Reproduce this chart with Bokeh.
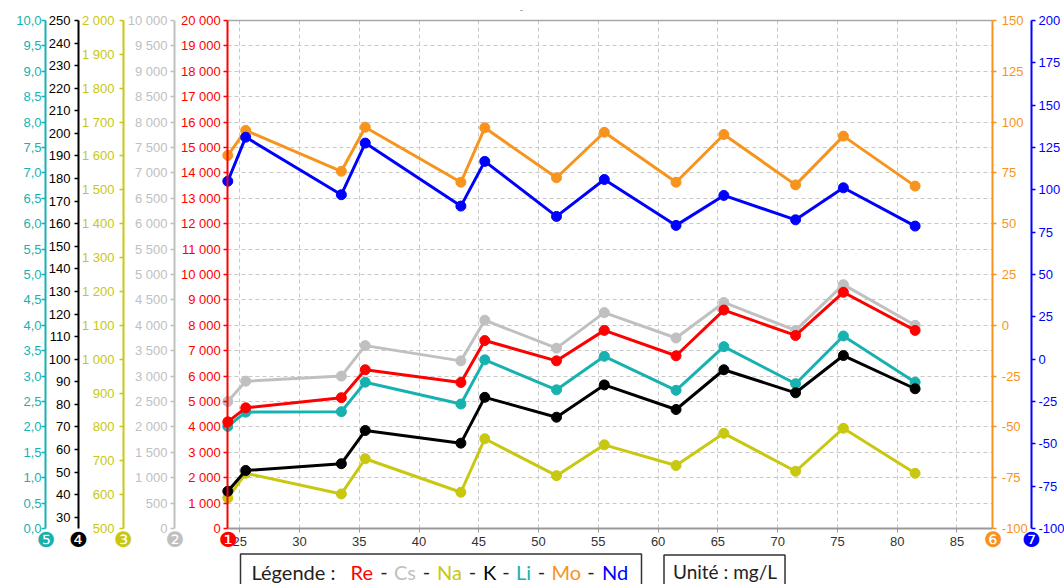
from bokeh.plotting import figure
from bokeh.models import (LinearAxis, Range1d, FixedTicker, CustomJSTickFormatter,
                          Label, BoxAnnotation)
from bokeh.embed import file_html
from bokeh.resources import INLINE

# ---------------- data ----------------
x_vals = [24, 25.5, 33.5, 35.5, 43.5, 45.5, 51.5, 55.5, 61.5, 65.5, 71.5, 75.5, 81.5]
re_vals = [4200, 4750, 5150, 6250, 5750, 7400, 6600, 7800, 6800, 8600, 7600, 9300, 7800]
cs_vals = [2500, 2900, 3000, 3600, 3300, 4100, 3550, 4250, 3750, 4450, 3900, 4800, 4000]
na_vals = [590, 663, 602, 706, 607, 765, 656, 747, 686, 781, 669, 796, 663]
k_vals = [41.5, 50.7, 53.7, 68.4, 62.8, 83.1, 74.3, 88.6, 77.7, 95.3, 85.1, 101.6, 86.9]
li_vals = [2.01, 2.29, 2.30, 2.88, 2.45, 3.32, 2.73, 3.39, 2.72, 3.58, 2.85, 3.79, 2.88]
mo_vals = [83.6, 95.9, 75.8, 97.5, 70.4, 97.2, 72.6, 95.0, 70.4, 93.9, 69.1, 93.1, 68.5]
nd_vals = [105.1, 131.1, 97.1, 127.6, 90.4, 116.8, 84.3, 106.1, 79.0, 96.7, 82.3, 101.2, 78.6]

x_ticks = [25, 30, 35, 40, 45, 50, 55, 60, 65, 70, 75, 80, 85]
re_ticks = list(range(0, 20001, 1000))
cs_ticks = list(range(0, 10001, 500))
na_ticks = list(range(500, 2001, 100))
k_ticks = list(range(30, 251, 10))
li_ticks = [i * 0.5 for i in range(21)]
mo_ticks = list(range(-100, 151, 25))
nd_ticks = list(range(-100, 201, 25))

legend_names = ["Re", "Cs", "Na", "K", "Li", "Mo", "Nd"]
legend_title = "Légende :"
unit_text = "Unité : mg/L"

C_RE, C_CS, C_NA, C_K = "#ff0000", "#c0c0c0", "#c8c810", "#000000"
C_LI, C_MO, C_ND = "#17b2b0", "#f7941d", "#0000ff"

THOU = r"return Math.round(tick).toString().replace(/\B(?=(\d{3})+(?!\d))/g, ' ');"
DEC = r"return tick.toFixed(1).replace('.', ',');"

# ---------------- layout geometry (page pixels) ----------------
W, H = 1064, 584
PX_L, PX_R = 227.3, 992.3          # x = 24 and x = 88
PY_T, PY_B = 20.0, 528.0           # top / bottom of the value axes
X0, X1 = 24, 88
KX = (PX_R - PX_L) / (X1 - X0)


def px_to_x(px):
    return X0 + (px - PX_L) / KX


def vrange(lo, hi):
    span = hi - lo
    h = PY_B - PY_T
    return Range1d(lo - span * (H - PY_B) / h, hi + span * PY_T / h)


p = figure(width=W, height=H, x_range=Range1d(px_to_x(0), px_to_x(W)),
           y_range=vrange(0, 20000), output_backend="svg", toolbar_location=None,
           min_border=0, min_border_left=0, min_border_right=0,
           min_border_top=0, min_border_bottom=0)
p.extra_y_ranges = {
    "cs": vrange(0, 10000), "na": vrange(500, 2000), "k": vrange(25, 250),
    "li": vrange(0, 10), "mo": vrange(-100, 150), "nd": vrange(-100, 200),
}
p.outline_line_color = None
p.background_fill_color = "white"
p.border_fill_color = "white"


def style_axis(ax, color, code, ticks, standoff, bounds, loc_px):
    ax.axis_line_color = color
    ax.axis_line_width = 2
    ax.major_tick_line_color = color
    ax.major_tick_line_width = 1.5
    ax.major_tick_out = 4
    ax.major_tick_in = 0
    ax.minor_tick_line_color = None
    ax.major_label_text_color = color
    ax.major_label_text_font = "Liberation Sans"
    ax.major_label_text_font_size = "13px"
    ax.major_label_standoff = standoff
    ax.ticker = FixedTicker(ticks=ticks)
    ax.formatter = CustomJSTickFormatter(code=code)
    ax.bounds = bounds
    ax.fixed_location = px_to_x(loc_px)


style_axis(p.yaxis[0], C_RE, THOU, re_ticks, 3, (0, 20000), PX_L)
left_axes = [("cs", C_CS, THOU, cs_ticks, 3, (0, 10000), 174),
             ("na", C_NA, THOU, na_ticks, 5, (500, 2000), 123),
             ("k", C_K, THOU, k_ticks, 4, (25, 250), 78),
             ("li", C_LI, DEC, li_ticks, 0, (0, 10), 45)]
for rng, col, code, ticks, so, bnd, loc in left_axes:
    ax = LinearAxis(y_range_name=rng)
    style_axis(ax, col, code, ticks, so, bnd, loc)
    p.add_layout(ax, "left")
right_axes = [("mo", C_MO, THOU, mo_ticks, 5, (-100, 150), PX_R),
              ("nd", C_ND, THOU, nd_ticks, 3, (-100, 200), 1031)]
for rng, col, code, ticks, so, bnd, loc in right_axes:
    ax = LinearAxis(y_range_name=rng)
    style_axis(ax, col, code, ticks, so, bnd, loc)
    p.add_layout(ax, "right")

xa = p.xaxis[0]
xa.ticker = FixedTicker(ticks=x_ticks)
xa.fixed_location = 0
xa.bounds = (X0, X1)
xa.axis_line_color = "#999999"
xa.axis_line_width = 2
xa.major_tick_line_color = "#999999"
xa.major_tick_out = 4
xa.major_tick_in = 0
xa.minor_tick_line_color = None
xa.major_label_text_color = "#333333"
xa.major_label_text_font = "Liberation Sans"
xa.major_label_text_font_size = "13px"
xa.major_label_standoff = 4

top = LinearAxis(ticker=FixedTicker(ticks=[]), fixed_location=20000, bounds=(X0, X1),
                 axis_line_color="#a8a8a8", axis_line_width=1.5,
                 major_tick_line_color=None, minor_tick_line_color=None,
                 major_label_text_font_size="0px")
p.add_layout(top, "above")

gx, gy = p.xgrid[0], p.ygrid[0]
grid_style = dict(line_color="#c8c8c8", line_dash="4 3", line_width=1)
if "cross_bounds" in gx.properties():
    gx.ticker = FixedTicker(ticks=x_ticks)
    gy.ticker = FixedTicker(ticks=re_ticks)
    gx.bounds = (X0, X1)
    gx.cross_bounds = (0, 20000)
    gy.bounds = (0, 20000)
    gy.cross_bounds = (X0, X1)
    for g in (gx, gy):
        g.grid_line_color = "#c8c8c8"
        g.grid_line_dash = "4 3"
        g.grid_line_width = 1
else:
    gx.visible = False
    gy.visible = False
    p.segment(x0=x_ticks, x1=x_ticks, y0=[0] * len(x_ticks), y1=[20000] * len(x_ticks),
              **grid_style)
    p.segment(x0=[X0] * len(re_ticks), x1=[X1] * len(re_ticks), y0=re_ticks, y1=re_ticks,
              **grid_style)

series = [
    (li_vals, C_LI, "li"), (cs_vals, C_CS, "cs"), (na_vals, C_NA, "na"),
    (re_vals, C_RE, "default"), (k_vals, C_K, "k"),
    (mo_vals, C_MO, "mo"), (nd_vals, C_ND, "nd"),
]
for vals, col, rng in series:
    p.line(x_vals, vals, line_color=col, line_width=3, y_range_name=rng)
    p.scatter(x_vals, vals, size=10, fill_color=col, line_color=col, y_range_name=rng)


def sy(py):
    return H - py


# numbered badges under each axis
badges = [("\u2776", C_RE, 227.5), ("\u2777", C_CS, 174.5), ("\u2778", C_NA, 123),
          ("\u2779", C_K, 78), ("\u277a", C_LI, 45.3), ("\u277b", C_MO, 992.5),
          ("\u277c", C_ND, 1031)]
for txt, col, px in badges:
    p.add_layout(Label(x=px, y=sy(539.5), x_units="screen", y_units="screen",
                       text=txt, text_color=col, text_font="DejaVu Sans",
                       text_font_size="21px", text_align="center",
                       text_baseline="middle"))

# small mark at top centre
p.add_layout(Label(x=521, y=sy(8), x_units="screen", y_units="screen", text="-",
                   text_color="#9a9a9a", text_font="Liberation Sans",
                   text_font_size="10px", text_align="center", text_baseline="middle"))

# legend boxes
for l, r, t in [(240, 641, 553.5), (663.5, 784.5, 554.5)]:
    p.add_layout(BoxAnnotation(left=l, right=r, top=sy(t), bottom=sy(600),
                               left_units="screen", right_units="screen",
                               top_units="screen", bottom_units="screen",
                               fill_alpha=0, line_color="#333333", line_alpha=1,
                               line_width=1.5))

seg_cols = [C_RE, C_CS, C_NA, C_K, C_LI, C_MO, C_ND]
name_x = [350, 393.5, 436.5, 482.5, 515.5, 551, 601.5]
dash_x = [383.5, 426, 472, 505.5, 541, 590.5]
LEG_FONT = "Lato"
LEG_Y = 571.5


def leg_label(txt, px, py, col, align="left", size="20px"):
    p.add_layout(Label(x=px, y=sy(py), x_units="screen", y_units="screen",
                       text=txt, text_color=col, text_font=LEG_FONT,
                       text_font_size=size, text_align=align,
                       text_baseline="middle"))


leg_label(legend_title, 251, LEG_Y, "#222222")
for nm, col, px in zip(legend_names, seg_cols, name_x):
    leg_label(nm, px, LEG_Y, col)
for px in dash_x:
    leg_label("-", px, LEG_Y, "#222222", "center")
leg_label(unit_text, 672.5, LEG_Y - 1, "#222222", size="19px")

open("out.html", "w").write(file_html(p, INLINE))
